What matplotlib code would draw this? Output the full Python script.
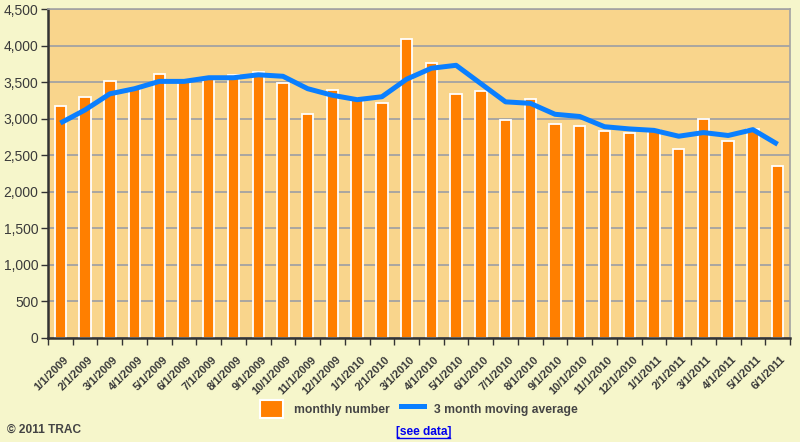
import matplotlib
matplotlib.use("Agg")
import matplotlib.pyplot as plt
from matplotlib.patches import Patch
from matplotlib.lines import Line2D
import numpy as np

plt.rcParams['font.family'] = ['Liberation Sans', 'DejaVu Sans']

months = ["1/1/2009", "2/1/2009", "3/1/2009", "4/1/2009", "5/1/2009", "6/1/2009",
          "7/1/2009", "8/1/2009", "9/1/2009", "10/1/2009", "11/1/2009", "12/1/2009",
          "1/1/2010", "2/1/2010", "3/1/2010", "4/1/2010", "5/1/2010", "6/1/2010",
          "7/1/2010", "8/1/2010", "9/1/2010", "10/1/2010", "11/1/2010", "12/1/2010",
          "1/1/2011", "2/1/2011", "3/1/2011", "4/1/2011", "5/1/2011", "6/1/2011"]
monthly = [3180, 3300, 3520, 3400, 3610, 3510, 3560, 3600, 3640, 3490, 3060, 3390,
           3285, 3210, 4090, 3760, 3340, 3380, 2980, 3270, 2930, 2900, 2830, 2810,
           2850, 2590, 2990, 2700, 2860, 2350]
moving_avg = [2940, 3120, 3340, 3410, 3510, 3510, 3560, 3560, 3600, 3580, 3410, 3320,
              3260, 3300, 3540, 3690, 3730, 3480, 3230, 3210, 3060, 3030, 2890, 2860,
              2840, 2760, 2810, 2770, 2850, 2650]
yticks = [0, 500, 1000, 1500, 2000, 2500, 3000, 3500, 4000, 4500]

fig_bg = "#F6F6CB"
plot_bg = "#F9D58C"
bar_c = "#FF7F00"
line_c = "#0A7FFF"
text_c = "#3A3A3A"

fig = plt.figure(figsize=(8, 4.42), dpi=100, facecolor=fig_bg)
ax = fig.add_axes([0.06, 0.2353, 0.9275, 0.7443])
ax.set_facecolor(plot_bg)

x = np.arange(len(months))
ax.set_axisbelow(True)
ax.yaxis.grid(True, color="#A3A3A3", linewidth=1.3)
ax.bar(x, monthly, width=0.46, color=bar_c, edgecolor="white", linewidth=1.3, zorder=2)
ax.plot(x, moving_avg, color=line_c, linewidth=3.6, solid_joinstyle="round",
        solid_capstyle="butt", zorder=3)

ax.set_xlim(-0.5, len(months) - 0.5)
ax.set_ylim(0, 4500)
ax.set_yticks(yticks)
ax.set_yticklabels([f"{v:,}" for v in yticks], fontsize=10, color=text_c)

ax.set_xticks(np.append(x - 0.5, len(months) - 0.5))
ax.set_xticklabels([""] * (len(months) + 1))
for i, m in enumerate(months):
    ax.text(i + 0.12, -0.05, m, transform=ax.get_xaxis_transform(), rotation=45,
            ha="right", va="top", rotation_mode="anchor", fontsize=8,
            fontweight="bold", color=text_c)

ax.tick_params(axis="both", length=5, width=1, color="#333333", direction="out")
ax.tick_params(axis="y", pad=2)
for s in ["left", "bottom"]:
    ax.spines[s].set_color("#333333")
    ax.spines[s].set_linewidth(1.8)
for s in ["right", "top"]:
    ax.spines[s].set_color("#A3A3A3")
    ax.spines[s].set_linewidth(1.2)

handles = [Patch(facecolor=bar_c, edgecolor="white", linewidth=1.5),
           Line2D([0], [0], color=line_c, linewidth=3.6)]
leg = fig.legend(handles, ["monthly number", "3 month moving average"],
                 loc="center", bbox_to_anchor=(0.524, 0.075), ncol=2, frameon=False,
                 handlelength=1.9, handleheight=2.0, columnspacing=0.9,
                 handletextpad=0.9, prop={"size": 8.7, "weight": "bold"})
for t in leg.get_texts():
    t.set_color("#444444")

fig.text(0.009, 0.027, "© 2011 TRAC", fontsize=8.6, fontweight="bold",
         color="#444444", ha="left", va="center")
fig.text(0.529, 0.022, "[see data]", fontsize=8.6, fontweight="bold",
         color="#0000EE", ha="center", va="center")
fig.add_artist(Line2D([0.496, 0.562], [0.008, 0.008], color="#0000EE",
                      linewidth=1, transform=fig.transFigure))

fig.savefig("out.png", dpi=100, facecolor=fig_bg)
